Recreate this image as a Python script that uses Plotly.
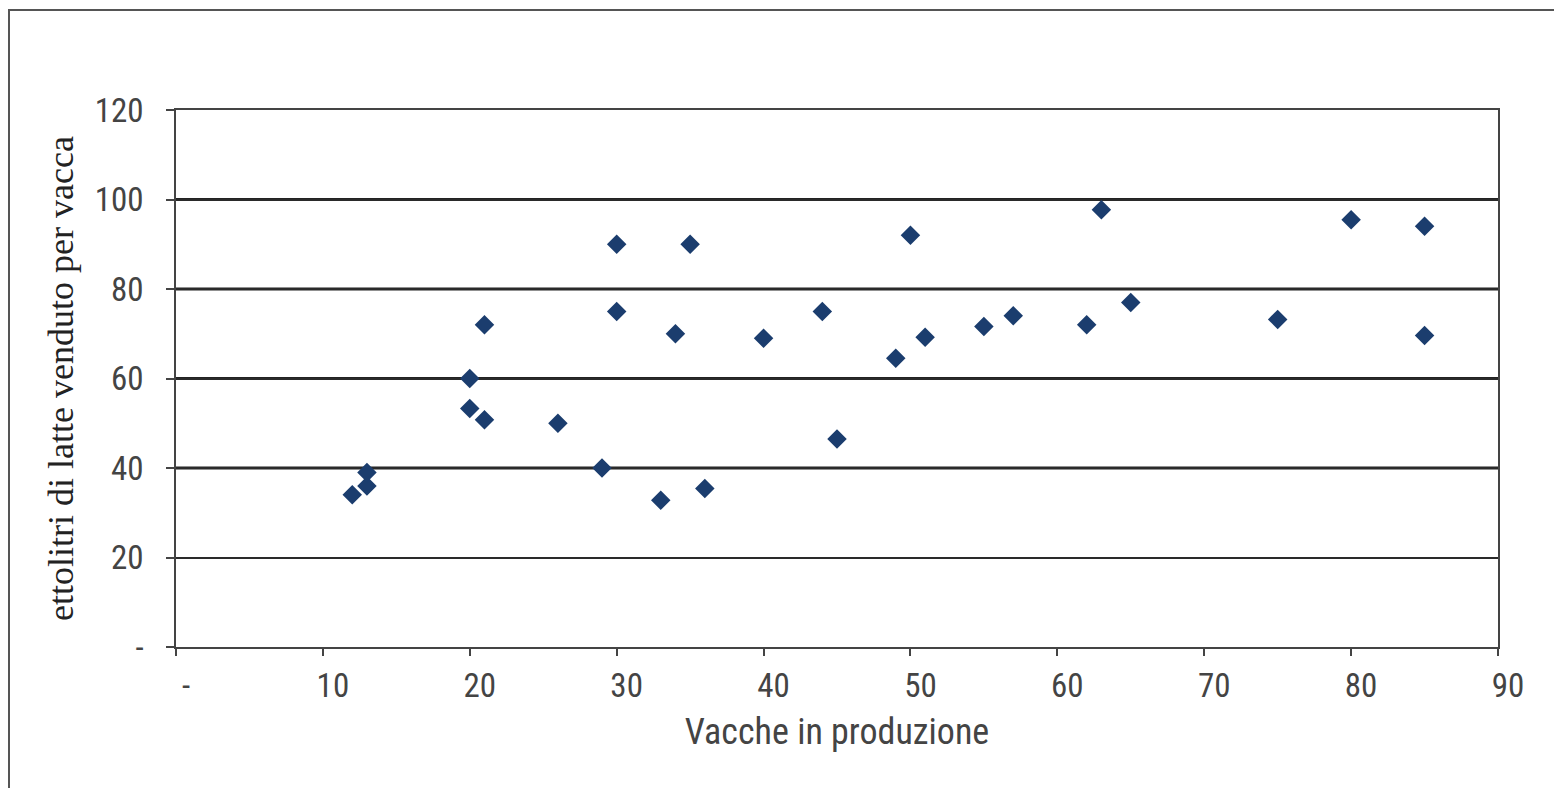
import plotly.graph_objects as go

# Data
vacche = [12, 13, 13, 20, 20, 21, 21, 26, 29, 30, 30, 33, 34, 35, 36,
          40, 44, 45, 49, 50, 51, 55, 57, 62, 63, 65, 75, 80, 85, 85]
ettolitri = [34, 36, 39, 60, 53.3, 50.8, 72, 50, 40, 90, 75, 32.8, 70, 90, 35.4,
             69, 75, 46.5, 64.5, 92, 69.2, 71.6, 74, 72, 97.7, 77, 73.2, 95.5, 94, 69.6]

x_tickvals = [0, 10, 20, 30, 40, 50, 60, 70, 80, 90]
x_ticktext = ["-", "10", "20", "30", "40", "50", "60", "70", "80", "90"]
y_tickvals = [0, 20, 40, 60, 80, 100, 120]
y_ticktext = ["-", "20", "40", "60", "80", "100", "120"]
bold_grid = [40, 60, 80, 100]

x_title = "Vacche in produzione"
y_title = "ettolitri di latte venduto per vacca"

SANS = "Liberation Sans Narrow, Arial Narrow, Roboto Condensed, DejaVu Sans Condensed, sans-serif"
SERIF = "Liberation Serif, Times New Roman, DejaVu Serif, serif"

fig = go.Figure()
fig.add_trace(go.Scatter(
    x=vacche, y=ettolitri, mode="markers",
    marker=dict(symbol="diamond", size=15, color="#1b3d6e", line=dict(width=0)),
    showlegend=False, hoverinfo="x+y",
))

shapes = []
for v in bold_grid:
    shapes.append(dict(type="line", xref="paper", yref="y", x0=0, x1=1, y0=v, y1=v,
                       line=dict(color="#222222", width=3), layer="below"))

OFF = 8  # page body margin
W, H = 1562, 788
L, T = 176 - OFF, 110 - OFF
R = W - 1498 + OFF
B = H - (647 - OFF)
pw, ph = W - L - R, H - T - B
# outer frame (left and top edges visible, rest cropped)
fx0, fy0 = 9 - OFF, 10 - OFF
shapes.append(dict(type="rect", xref="paper", yref="paper",
                   x0=(fx0 - L) / pw, x1=(W + 20 - L) / pw,
                   y0=-(H + 20 - (H - B)) / ph, y1=((H - B) - fy0) / ph,
                   line=dict(color="#555555", width=2), fillcolor="rgba(0,0,0,0)", layer="above"))

fig.update_layout(
    width=W, height=H,
    margin=dict(l=L, r=R, t=T, b=B, autoexpand=False),
    paper_bgcolor="white", plot_bgcolor="white",
    shapes=shapes,
    xaxis=dict(
        range=[0, 90], tickmode="array", tickvals=x_tickvals, ticktext=x_ticktext,
        showgrid=False, zeroline=False,
        showline=True, linecolor="#444444", linewidth=1.5, mirror=True,
        ticks="outside", ticklen=7, tickwidth=1.5, tickcolor="#444444",
        tickfont=dict(family=SANS, size=33, color="#444444"),
        ticklabelshift=10, ticklabelstandoff=2,
        title=dict(text=x_title, font=dict(family=SANS, size=36, color="#444444"), standoff=14),
        automargin=False,
    ),
    yaxis=dict(
        range=[0, 120], tickmode="array", tickvals=y_tickvals, ticktext=y_ticktext,
        showgrid=True, gridcolor="#2a2a2a", gridwidth=1.6, zeroline=False,
        showline=True, linecolor="#444444", linewidth=1.5, mirror=True,
        ticks="outside", ticklen=8, tickwidth=1.5, tickcolor="#444444",
        tickfont=dict(family=SANS, size=33, color="#444444"),
        ticklabelstandoff=16,
        title=dict(text=y_title, font=dict(family=SERIF, size=36, color="#222222"), standoff=10),
        automargin=False,
    ),
)

fig.write_html("out.html")
